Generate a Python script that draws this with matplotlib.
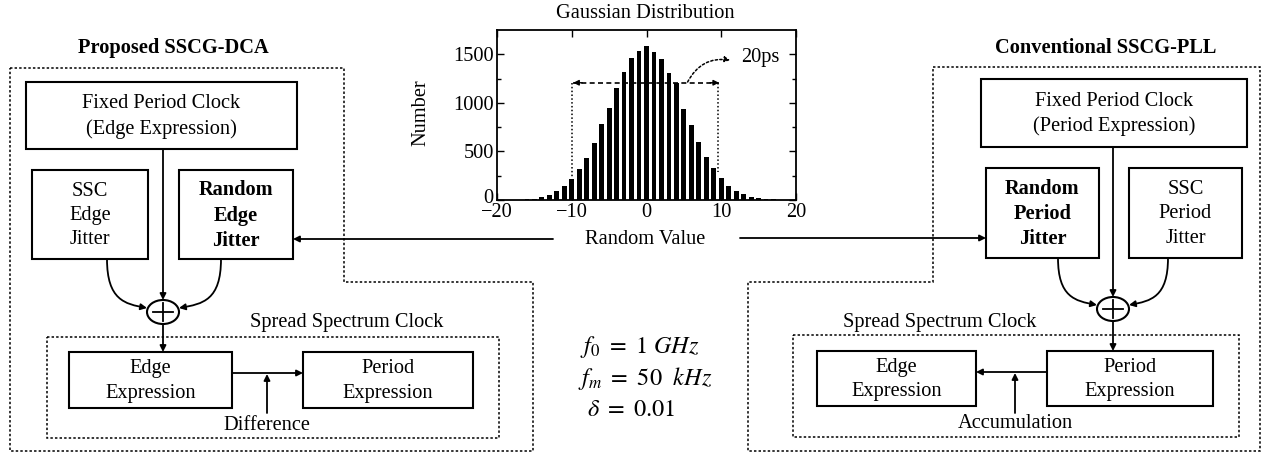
import matplotlib
matplotlib.use('Agg')
import matplotlib.pyplot as plt
import matplotlib.transforms as mtransforms
from matplotlib.patches import Rectangle, Ellipse, FancyArrowPatch, Polygon
from matplotlib.path import Path

plt.rcParams['font.family'] = ['Liberation Serif', 'DejaVu Serif']
plt.rcParams['mathtext.fontset'] = 'stix'

# histogram of the random jitter values
bins = list(range(-17, 18))
counts = [4, 8, 14, 26, 50, 92, 146, 220, 320, 432, 585, 780, 945, 1155, 1315, 1460, 1530,
          1590,
          1523, 1455, 1310, 1200, 935, 770, 600, 440, 328, 222, 140, 88, 58, 34, 22, 14, 6]
xticks = [-20, -10, 0, 10, 20]
yticks = [0, 500, 1000, 1500]

left_title = 'Proposed SSCG-DCA'
right_title = 'Conventional SSCG-PLL'
params = [r'$f_0\ =\ 1\ GHz$', r'$f_m\ =\ 50\ \ kHz$', r'$\delta\ =\ 0.01$']

W, H = 1276, 453
FS = 14.7
LS = 1.36
DOT = (0, (1.6, 1.4))

fig = plt.figure(figsize=(W / 100, H / 100), dpi=100)
ax = fig.add_axes([0, 0, 1, 1])
ax.set_xlim(0, W)
ax.set_ylim(H, 0)
ax.axis('off')


def box(x0, y0, x1, y1, txt, bold=False):
    ax.add_patch(Rectangle((x0, y0), x1 - x0, y1 - y0, fill=False, lw=1.5, ec='k'))
    ax.text((x0 + x1) / 2, (y0 + y1) / 2 + 1, txt, ha='center', va='center', fontsize=FS,
            fontweight='bold' if bold else 'normal', linespacing=LS)


def arrow(p0, p1):
    ax.annotate('', xy=p1, xytext=p0,
                arrowprops=dict(arrowstyle='-|>', lw=1.3, color='k', mutation_scale=9,
                                shrinkA=0, shrinkB=0))


def curve(pts):
    path = Path(pts, [Path.MOVETO, Path.CURVE4, Path.CURVE4, Path.CURVE4])
    ax.add_patch(FancyArrowPatch(path=path, arrowstyle='-|>', mutation_scale=9, lw=1.3, color='k'))


def summer(cx, cy):
    ax.add_patch(Ellipse((cx, cy), 32, 24, fill=False, lw=1.5, ec='k'))
    ax.plot([cx - 10, cx + 10], [cy, cy], 'k', lw=1.3)
    ax.plot([cx, cx], [cy - 9, cy + 9], 'k', lw=1.3)


def dotted(pts):
    ax.add_patch(Polygon(pts, closed=True, fill=False, ls=DOT, lw=1.1, ec='k'))


# ---- left: proposed SSCG-DCA
ax.text(173, 48, left_title, ha='center', va='center', fontsize=FS, fontweight='bold')
dotted([(10, 68), (344, 68), (344, 282), (533, 282), (533, 451), (10, 451)])
box(26, 82, 297, 149, 'Fixed Period Clock\n(Edge Expression)')
box(32, 170, 148, 259, 'SSC\nEdge\nJitter')
box(179, 170, 293, 259, 'Random\nEdge\nJitter', bold=True)
summer(163, 312)
arrow((163, 149), (163, 300))
curve([(107, 259), (107, 300), (125, 304), (147, 308)])
curve([(221, 259), (221, 300), (203, 304), (179, 308)])
dotted([(47, 337), (499, 337), (499, 438), (47, 438)])
ax.text(347, 323, 'Spread Spectrum Clock', ha='center', va='center', fontsize=FS)
arrow((163, 324), (163, 352))
box(69, 352, 232, 408, 'Edge\nExpression')
box(303, 352, 473, 408, 'Period\nExpression')
arrow((232, 373), (303, 373))
arrow((267, 413), (267, 374))
ax.text(267, 425, 'Difference', ha='center', va='center', fontsize=FS)
arrow((553, 239), (293, 239))

# ---- right: conventional SSCG-PLL
ax.text(1106, 48, right_title, ha='center', va='center', fontsize=FS, fontweight='bold')
dotted([(933, 67), (1260, 67), (1260, 451), (748, 451), (748, 282), (933, 282)])
box(981, 79, 1247, 147, 'Fixed Period Clock\n(Period Expression)')
box(986, 168, 1099, 258, 'Random\nPeriod\nJitter', bold=True)
box(1129, 168, 1242, 258, 'SSC\nPeriod\nJitter')
summer(1113, 309)
arrow((1113, 147), (1113, 297))
curve([(1058, 258), (1058, 297), (1075, 301), (1097, 305)])
curve([(1168, 258), (1168, 297), (1151, 301), (1129, 305)])
dotted([(793, 335), (1239, 335), (1239, 437), (793, 437)])
ax.text(940, 323, 'Spread Spectrum Clock', ha='center', va='center', fontsize=FS)
arrow((1113, 321), (1113, 351))
box(817, 351, 976, 406, 'Edge\nExpression')
box(1047, 351, 1213, 406, 'Period\nExpression')
arrow((1047, 372), (976, 372))
arrow((1015, 413), (1015, 373))
ax.text(1015, 423, 'Accumulation', ha='center', va='center', fontsize=FS)
arrow((740, 238), (986, 238))

# ---- middle: parameters
for i, s in enumerate(params):
    ax.text([580, 578, 587][i], 347 + 32 * i, s, ha='left', va='center', fontsize=17.5)

# ---- histogram
ax.text(645, 14, 'Gaussian Distribution', ha='center', va='center', fontsize=FS)
ax.text(645, 240, 'Random Value', ha='center', va='center', fontsize=FS)
ax.text(421, 113, 'Number', ha='center', va='center', fontsize=FS, rotation=90)

hx = fig.add_axes([497 / W, 1 - 200 / H, 299 / W, 170 / H])
hx.bar(bins, counts, width=0.64, color='k')
hx.set_xlim(-20, 20)
hx.set_ylim(0, 1750)
hx.set_xticks(xticks)
hx.set_yticks(yticks)
hx.set_yticks(range(250, 1750, 500), minor=True)
hx.tick_params(which='both', direction='in', top=True, right=True, labelsize=FS, width=1)
hx.tick_params(which='major', length=5, pad=2)
hx.tick_params(which='minor', length=3)
for sp in hx.spines.values():
    sp.set_linewidth(1.3)

# lift the "0" label a little so it sits just above the "-20"
fig.canvas.draw()
zero = hx.get_yticklabels()[0]
zero.set_transform(zero.get_transform() + mtransforms.ScaledTranslation(-1 / 100, 4 / 100, fig.dpi_scale_trans))

hx.plot([-9.8, 9.7], [1207, 1207], 'k', ls=(0, (3, 2)), lw=1.2)
hx.annotate('', xy=(-9.8, 1207), xytext=(-8.6, 1207),
            arrowprops=dict(arrowstyle='-|>', color='k', lw=1, mutation_scale=8, shrinkA=0, shrinkB=0))
hx.annotate('', xy=(9.7, 1207), xytext=(8.5, 1207),
            arrowprops=dict(arrowstyle='-|>', color='k', lw=1, mutation_scale=8, shrinkA=0, shrinkB=0))
hx.plot([-9.9, -9.9], [1207, 240], 'k', ls=(0, (1, 1.5)), lw=1.1)
hx.plot([9.6, 9.6], [1207, 290], 'k', ls=(0, (1, 1.5)), lw=1.1)
hx.annotate('', xy=(11.2, 1440), xytext=(5.5, 1215),
            arrowprops=dict(arrowstyle='-|>', color='k', lw=1.1, ls=(0, (1.5, 1.5)),
                            mutation_scale=8, shrinkA=0, shrinkB=0,
                            connectionstyle='arc3,rad=-0.35'))
hx.text(12.6, 1470, '20ps', ha='left', va='center', fontsize=FS)

fig.savefig('out.png', dpi=100)
